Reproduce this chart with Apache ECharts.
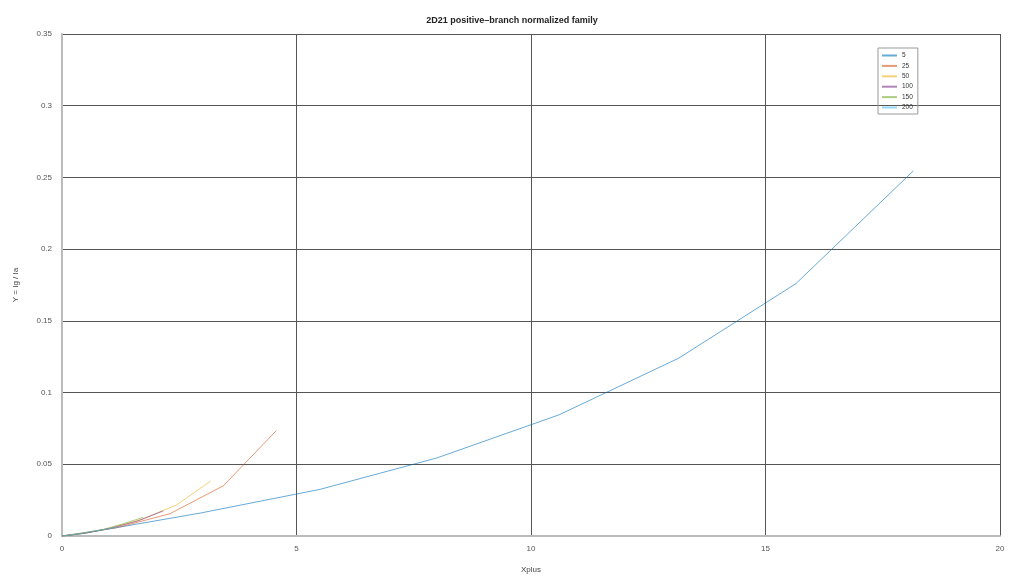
<!DOCTYPE html>
<html><head><meta charset="utf-8">
<script src="https://cdn.jsdelivr.net/npm/echarts@6/dist/echarts.min.js"></script>
<style>html,body{margin:0;padding:0;background:#fff}#c{width:1024px;height:576px}</style>
</head><body><div id="c"></div>
<script>
const seriesNames = ['5','25','50','100','150','200'];
const x5 = [0, 0.4, 2.95, 5.5, 8.0, 10.6, 13.15, 15.65, 18.15];
const y5 = [0, 0.0015, 0.016, 0.0325, 0.0545, 0.0845, 0.124, 0.176, 0.2545];
const x25 = [0, 0.04, 1.17, 2.30, 3.44, 4.57];
const y25 = [0, 0.0002, 0.0058, 0.0155, 0.035, 0.0735];
const x50 = [0, 0.25, 0.98, 1.71, 2.44, 3.17];
const y50 = [0, 0.001, 0.005, 0.0118, 0.0216, 0.0383];
const x100 = [0, 0.54, 1.08, 1.62, 2.16];
const y100 = [0, 0.0022, 0.0058, 0.0105, 0.0175];
const x150 = [0, 0.43, 0.87, 1.30, 1.73];
const y150 = [0, 0.0018, 0.0045, 0.0085, 0.013];
const x200 = [0, 0.3, 0.6, 0.9, 1.2];
const y200 = [0, 0.0013, 0.003, 0.0045, 0.0062];
const xTicks = [0, 5, 10, 15, 20];
const yTicks = [0, 0.05, 0.1, 0.15, 0.2, 0.25, 0.3, 0.35];

const xs = [x5, x25, x50, x100, x150, x200];
const ys = [y5, y25, y50, y100, y150, y200];
const colors = ['#0072BD','#D95319','#EDB120','#7E2F8E','#77AC30','#4DBEEE'];

const chart = echarts.init(document.getElementById('c'));
chart.setOption({
  animation: false,
  backgroundColor: '#fff',
  color: colors,
  title: {
    text: '2D21 positive\u2013branch normalized family',
    left: 'center', top: 11,
    textStyle: {fontSize: 9, fontWeight: 'bold', color: '#222', fontFamily: 'Liberation Sans'}
  },
  legend: {
    orient: 'vertical', left: 878, top: 48,
    data: seriesNames,
    icon: 'rect', itemWidth: 15, itemHeight: 2, itemGap: 3.4,
    padding: [4, 5, 3, 4],
    borderColor: '#999', borderWidth: 1,
    textStyle: {fontSize: 6.5, color: '#333', fontFamily: 'Liberation Sans'}
  },
  grid: {left: 62, right: 24, top: 34, bottom: 40, containLabel: false, outerBoundsMode: 'none'},
  xAxis: {
    type: 'value', min: xTicks[0], max: xTicks[xTicks.length-1], interval: 5,
    name: 'Xplus', nameLocation: 'middle', nameGap: 30,
    nameTextStyle: {fontSize: 8, color: '#444', fontFamily: 'Liberation Sans'},
    axisLine: {show: true, onZero: false, lineStyle: {color: '#bbb', width: 2}},
    axisTick: {show: false},
    axisLabel: {fontSize: 8, color: '#555', margin: 9, fontFamily: 'Liberation Sans'},
    splitLine: {show: true, lineStyle: {color: '#555', width: 1}}
  },
  yAxis: {
    type: 'value', min: yTicks[0], max: yTicks[yTicks.length-1], interval: 0.05,
    name: 'Y = Ig / Ia', nameLocation: 'middle', nameGap: 42,
    nameTextStyle: {fontSize: 8, color: '#444', fontFamily: 'Liberation Sans'},
    axisLine: {show: true, onZero: false, lineStyle: {color: '#bbb', width: 2}},
    axisTick: {show: false},
    axisLabel: {fontSize: 8, color: '#555', margin: 10, fontFamily: 'Liberation Sans'},
    splitLine: {show: true, lineStyle: {color: '#555', width: 1}}
  },
  series: seriesNames.map((n, i) => ({
    name: n, type: 'line', showSymbol: false, symbol: 'none',
    data: xs[i].map((x, j) => [x, ys[i][j]]),
    lineStyle: {width: 1, color: colors[i], opacity: 0.6},
    itemStyle: {color: colors[i], opacity: 0.6}
  }))
});
</script></body></html>
